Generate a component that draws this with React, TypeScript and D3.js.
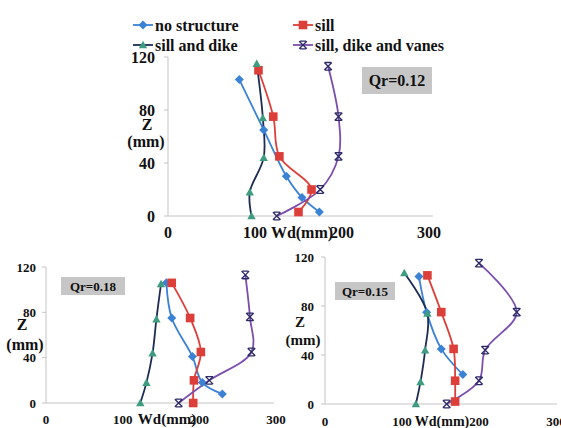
import React from 'react';
import * as d3 from 'd3';

type Pt = { wd: number; z: number };

const seriesNames = ['no structure', 'sill', 'sill and dike', 'sill, dike and vanes'];
const xTicks = [0, 100, 200, 300];
const yTicks = [0, 40, 80, 120];

// Qr = 0.12
const noStructure012: Pt[] = [{ wd: 82, z: 103 }, { wd: 110, z: 65 }, { wd: 136, z: 30 }, { wd: 154, z: 14 }, { wd: 174, z: 3 }];
const sill012: Pt[] = [{ wd: 104, z: 110 }, { wd: 121, z: 75 }, { wd: 128, z: 45 }, { wd: 165, z: 20 }, { wd: 150, z: 3 }];
const sillDike012: Pt[] = [{ wd: 102, z: 115 }, { wd: 109, z: 74 }, { wd: 110, z: 44 }, { wd: 94, z: 18 }, { wd: 96, z: 0 }];
const vanes012: Pt[] = [{ wd: 184, z: 113 }, { wd: 196, z: 75 }, { wd: 196, z: 45 }, { wd: 175, z: 20 }, { wd: 125, z: 0 }];

// Qr = 0.18
const noStructure018: Pt[] = [{ wd: 157, z: 106 }, { wd: 164, z: 75 }, { wd: 191, z: 41 }, { wd: 204, z: 18 }, { wd: 230, z: 8 }];
const sill018: Pt[] = [{ wd: 164, z: 106 }, { wd: 188, z: 75 }, { wd: 202, z: 45 }, { wd: 193, z: 20 }, { wd: 192, z: 0 }];
const sillDike018: Pt[] = [{ wd: 150, z: 105 }, { wd: 144, z: 74 }, { wd: 139, z: 44 }, { wd: 131, z: 18 }, { wd: 123, z: 0 }];
const vanes018: Pt[] = [{ wd: 260, z: 113 }, { wd: 266, z: 76 }, { wd: 268, z: 45 }, { wd: 213, z: 20 }, { wd: 173, z: 0 }];

// Qr = 0.15
const noStructure015: Pt[] = [{ wd: 122, z: 104 }, { wd: 132, z: 75 }, { wd: 151, z: 45 }, { wd: 179, z: 24 }];
const sill015: Pt[] = [{ wd: 133, z: 105 }, { wd: 151, z: 75 }, { wd: 167, z: 45 }, { wd: 169, z: 19 }, { wd: 169, z: 2 }];
const sillDike015: Pt[] = [{ wd: 103, z: 107 }, { wd: 133, z: 74 }, { wd: 130, z: 44 }, { wd: 124, z: 18 }, { wd: 118, z: 0 }];
const vanes015: Pt[] = [{ wd: 200, z: 115 }, { wd: 249, z: 75 }, { wd: 208, z: 44 }, { wd: 200, z: 19 }, { wd: 158, z: 0 }];

const lineColors = ['#3b82d4', '#dc3f3a', '#1c2c52', '#7b4fae'];
const markerColors = ['#3b82d4', '#dc3f3a', '#3f9c80', '#2d2b66'];

const panels = [
  { qr: 'Qr=0.12', data: [noStructure012, sill012, sillDike012, vanes012], x: [168, 429], y: [216, 57],
    font: 16, labFont: 16, wdFont: 16, qrFont: 16,
    box: [362, 67, 70, 27], zPos: [147, 130], mmPos: [146, 147], wdPos: [302, 238], yLabGap: 13, xLabY: 238, axisEnd: 433 },
  { qr: 'Qr=0.18', data: [noStructure018, sill018, sillDike018, vanes018], x: [46, 276], y: [403, 267],
    font: 13, labFont: 16, wdFont: 15, qrFont: 13,
    box: [61, 277, 64, 18], zPos: [22, 330], mmPos: [25, 350], wdPos: [167, 424], yLabGap: 10, xLabY: 424, axisEnd: 274 },
  { qr: 'Qr=0.15', data: [noStructure015, sill015, sillDike015, vanes015], x: [325, 556], y: [404, 257],
    font: 13, labFont: 15, wdFont: 14, qrFont: 13,
    box: [335, 282, 60, 18], zPos: [300, 327], mmPos: [303, 345], wdPos: [442, 426], yLabGap: 11, xLabY: 426, axisEnd: 557 },
];

const textStyle = (size: number): React.CSSProperties => ({
  fontFamily: 'Liberation Serif', fontWeight: 'bold', fontSize: size, fill: '#111',
});

const Marker = ({ i, cx, cy }: { i: number; cx: number; cy: number }) => {
  const c = markerColors[i];
  if (i === 0) {
    const s = 4.5;
    return <path d={`M${cx},${cy - s}L${cx + s},${cy}L${cx},${cy + s}L${cx - s},${cy}Z`} fill={c} />;
  }
  if (i === 1) {
    const s = 4.3;
    return <rect x={cx - s} y={cy - s} width={2 * s} height={2 * s} fill={c} />;
  }
  if (i === 2) {
    const s = 4.2;
    return <path d={`M${cx},${cy - s}L${cx + s},${cy + s * 0.8}L${cx - s},${cy + s * 0.8}Z`} fill={c} />;
  }
  const s = 3.8;
  return (
    <path
      d={`M${cx - s},${cy - s}L${cx + s},${cy + s}M${cx + s},${cy - s}L${cx - s},${cy + s}M${cx - s * 0.8},${cy - s}L${cx + s * 0.8},${cy - s}M${cx - s * 0.8},${cy + s}L${cx + s * 0.8},${cy + s}`}
      stroke={c} strokeWidth={1.3} fill="none"
    />
  );
};

const Panel = ({ p }: { p: typeof panels[number] }) => {
  const xScale = d3.scaleLinear().domain([0, 300]).range(p.x);
  const yScale = d3.scaleLinear().domain([0, 120]).range(p.y);
  const line = d3.line<Pt>().x((d) => xScale(d.wd)).y((d) => yScale(d.z)).curve(d3.curveCatmullRom.alpha(0.5));
  const x0 = xScale(0);
  const y0 = yScale(0);
  return (
    <g>
      {/* axes */}
      <line x1={x0} x2={x0} y1={y0} y2={yScale(120)} stroke="#c4c4c4" />
      <line x1={x0} x2={p.axisEnd} y1={y0} y2={y0} stroke="#c4c4c4" />
      {yTicks.map((t) => (
        <g key={`y${t}`}>
          <line x1={x0 - 4} x2={x0} y1={yScale(t)} y2={yScale(t)} stroke="#c4c4c4" />
          <text x={x0 - p.yLabGap} y={yScale(t)} dy="0.35em" textAnchor="end" style={textStyle(p.font)}>{t}</text>
        </g>
      ))}
      {xTicks.map((t) => (
        <text key={`x${t}`} x={xScale(t)} y={p.xLabY} textAnchor="middle" style={textStyle(p.font)}>{t}</text>
      ))}

      {/* series */}
      {p.data.map((s, i) => (
        <path key={`l${i}`} d={line(s) || ''} fill="none" stroke={lineColors[i]} strokeWidth={1.8} />
      ))}
      {p.data.map((s, i) => s.map((d, j) => <Marker key={`m${i}-${j}`} i={i} cx={xScale(d.wd)} cy={yScale(d.z)} />))}

      {/* labels */}
      <text x={p.zPos[0]} y={p.zPos[1]} textAnchor="middle" style={textStyle(p.labFont)}>Z</text>
      <text x={p.mmPos[0]} y={p.mmPos[1]} textAnchor="middle" style={textStyle(p.labFont)}>(mm)</text>
      <text x={p.wdPos[0]} y={p.wdPos[1]} textAnchor="middle" style={textStyle(p.wdFont)}>Wd(mm)</text>

      <rect x={p.box[0]} y={p.box[1]} width={p.box[2]} height={p.box[3]} fill="#c6c6c6" />
      <text x={p.box[0] + p.box[2] / 2} y={p.box[1] + p.box[3] / 2} dy="0.35em" textAnchor="middle" style={textStyle(p.qrFont)}>{p.qr}</text>
    </g>
  );
};

const legendPos = [[133, 25], [293, 25], [133, 45], [293, 45]];

const App = () => (
  <svg width={561} height={428} style={{ position: 'absolute', left: 0, top: 0, background: '#fff' }}>
    {panels.map((p) => <Panel key={p.qr} p={p} />)}
    {seriesNames.map((name, i) => {
      const [lx, ly] = legendPos[i];
      return (
        <g key={name}>
          <line x1={lx} x2={lx + 20} y1={ly} y2={ly} stroke={lineColors[i]} strokeWidth={1.8} />
          <Marker i={i} cx={lx + 10} cy={ly} />
          <text x={lx + 22} y={ly} dy="0.35em" style={textStyle(16)}>{name}</text>
        </g>
      );
    })}
  </svg>
);

export default App;
